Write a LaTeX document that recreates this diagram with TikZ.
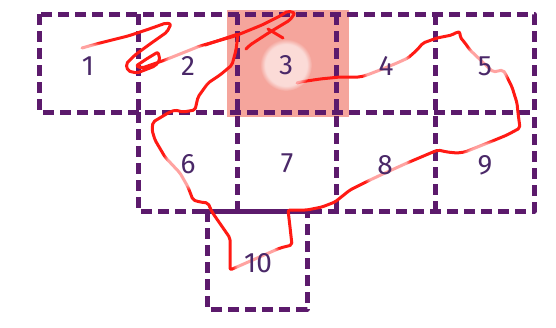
\documentclass[tikz,border=0pt]{standalone}
\usepackage{fontspec}
\setmainfont{Fira Sans}
\usetikzlibrary{fadings}
\definecolor{gridPurple}{HTML}{5C1A6C}
\definecolor{numPurple}{HTML}{4A2868}
\definecolor{hotCell}{HTML}{F5A59C}
\definecolor{trailRed}{HTML}{FF1A14}
\tikzset{
  cellline/.style={line width=5pt, draw=gridPurple, dash pattern=on 11pt off 6pt, line join=round},
  solidline/.style={line width=5pt, draw=gridPurple},
  trail/.style={line width=3pt, draw=trailRed, line join=round, line cap=round, rounded corners=2pt},
  halo/.style={fill=white, fill opacity=0.6, path fading=circle with fuzzy edge 20 percent},
  cellnum/.style={font=\fontsize{28}{28}\selectfont, text=numPurple, inner sep=0pt}
}
\begin{document}
\begin{tikzpicture}[x=1pt, y=-1pt]
  \useasboundingbox (0,0) rectangle (556,327);
  % hot cell
  \fill[hotCell] (227,10) rectangle (349,117);
  % grid
  \draw[cellline] (39,14) rectangle (534,112);
  \draw[cellline] (138,14) -- (138,112);
  \foreach \x in {237,336,435}
    \draw[cellline] (\x,14) -- (\x,211);
  \draw[cellline] (138,112) -- (138,211) -- (534,211) -- (534,112);
  \draw[cellline] (207,211) -- (207,309) -- (307,309) -- (307,211);
  \draw[solidline] (203,211) -- (311,211);
  % trail
  \draw[trail] (82,48) -- (100,43) -- (128,36) -- (152,28) -- (166,23) -- (171,24)
    -- (167,32) -- (150,44) -- (135,55) -- (126,64) -- (128,71) -- (137,73)
    -- (155,66) -- (160,60) -- (158,52) -- (148,58) -- (136,66) -- (142,68)
    -- (165,60) -- (200,46) -- (235,36) -- (262,25) -- (280,16) -- (288,11)
    -- (295,13) -- (290,20) -- (270,32) -- (250,45) -- (246,49);
  \draw[trail] (268,29) -- (283,38);
  \draw[trail] (205,45) -- (238,34) -- (236,50) -- (232,65) -- (220,75)
    -- (208,83) -- (198,97) -- (195,110) -- (183,112) -- (175,110) -- (168,113)
    -- (153,122) -- (152,130) -- (155,140) -- (165,157) -- (180,173) -- (188,187)
    -- (193,200) -- (200,202) -- (208,203) -- (212,212) -- (230,238) -- (230,270)
    -- (280,248) -- (292,245) -- (290,227) -- (288,210) -- (297,210) -- (307,210)
    -- (322,207) -- (335,202) -- (350,190) -- (370,180) -- (385,173) -- (407,163)
    -- (433,152) -- (438,150) -- (447,152) -- (457,153) -- (465,152) -- (490,142)
    -- (507,135) -- (520,128) -- (518,113) -- (517,103) -- (512,87) -- (505,73)
    -- (503,70) -- (493,72) -- (470,50) -- (465,43) -- (460,37) -- (460,32)
    -- (457,32) -- (452,35) -- (437,38) -- (423,43) -- (417,50) -- (408,58)
    -- (397,63) -- (380,70) -- (367,75) -- (360,77) -- (340,77) -- (320,79)
    -- (300,82) -- (297,83);
  % halos and numbers
  \foreach \i/\x/\y in {1/88/66, 2/188/66, 3/286/65, 4/386/66, 5/485/66,
                        6/188/164, 7/287/163, 8/385/165, 9/485/165, 10/258/263} {
    \fill[halo] (\x,\y) circle (26);
    \node[cellnum] (n\i) at (\x,\y) {\i};
  }
\end{tikzpicture}
\end{document}
